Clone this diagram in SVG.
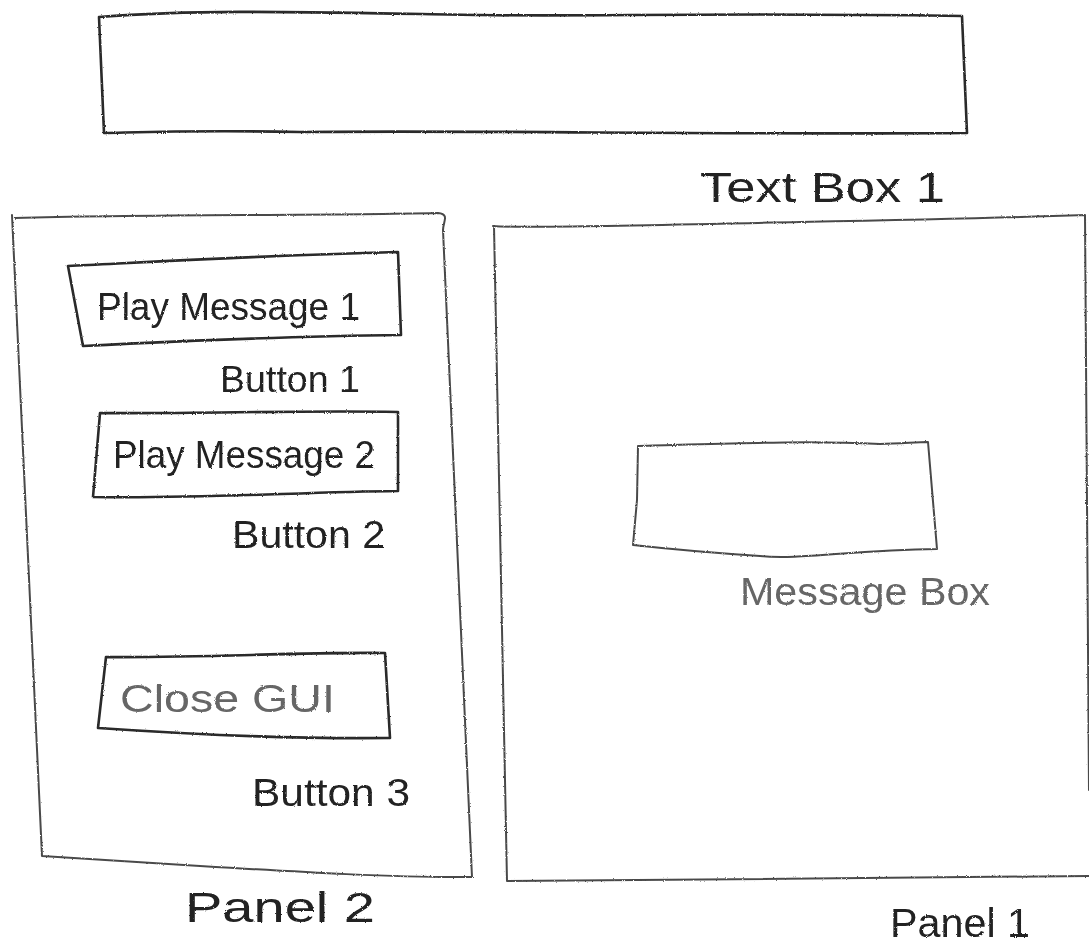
<svg xmlns="http://www.w3.org/2000/svg" width="1089" height="945" viewBox="0 0 1089 945">
<style>
.ln{fill:none;stroke:#2a2a2a;stroke-width:2.6;stroke-linejoin:round;stroke-linecap:round}
.lt{fill:none;stroke:#4a4a4a;stroke-width:2;stroke-linejoin:round;stroke-linecap:round}
.tx{font-family:"Liberation Sans","DejaVu Sans",sans-serif;fill:#222}
.gr{fill:#666}
</style>
<defs>
<filter id="rough" x="-5%" y="-5%" width="110%" height="110%">
<feTurbulence type="fractalNoise" baseFrequency="0.9" numOctaves="2" seed="3" result="n"/>
<feDisplacementMap in="SourceGraphic" in2="n" scale="2.2"/>
</filter>
</defs>
<rect width="1089" height="945" fill="#ffffff"/>
<g filter="url(#rough)">
<g id="textbox1">
<path class="ln" d="M99,17 C200,9 300,12 480,15 C600,17 700,12 962,16 L967,133 C700,135 500,130 300,132 C200,130 150,132 104,133 Z"/>
<text class="tx" x="700" y="202" font-size="42" textLength="245" lengthAdjust="spacingAndGlyphs">Text Box 1</text>
</g>
<g id="panel2">
<path class="lt" d="M15,218 C150,214 300,216 438,213 C450,214 443,222 443,230 L472,877 C400,878 300,872 200,866 C120,861 70,858 42,856 L12,215"/>
<text class="tx" x="185" y="922" font-size="42" textLength="190" lengthAdjust="spacingAndGlyphs">Panel 2</text>
</g>
<g id="panel1">
<path class="lt" d="M493,226 C520,229 700,224 800,222 C900,220 1000,218 1085,215 L1089,790 M1089,876 C900,877 700,880 507,881 L494,226"/>
<text class="tx" x="890" y="937" font-size="40" textLength="140" lengthAdjust="spacingAndGlyphs">Panel 1</text>
</g>
<g id="button1">
<path class="ln" d="M68,266 C150,262 250,256 398,252 L401,335 C300,336 200,340 83,346 Z"/>
<text class="tx" x="97" y="320" font-size="38" textLength="263" lengthAdjust="spacingAndGlyphs">Play Message 1</text>
<text class="tx" x="220" y="392" font-size="36" textLength="140" lengthAdjust="spacingAndGlyphs">Button 1</text>
</g>
<g id="button2">
<path class="ln" d="M100,413 C200,414 300,410 398,412 L398,491 C300,492 200,499 93,497 Z"/>
<text class="tx" x="113" y="468" font-size="38" textLength="262" lengthAdjust="spacingAndGlyphs">Play Message 2</text>
<text class="tx" x="232" y="548" font-size="38" textLength="153" lengthAdjust="spacingAndGlyphs">Button 2</text>
</g>
<g id="button3">
<path class="ln" d="M106,657 C200,658 300,652 385,653 L390,738 C300,739 200,735 98,728 Z"/>
<text class="tx gr" x="120" y="712" font-size="38" textLength="215" lengthAdjust="spacingAndGlyphs">Close GUI</text>
<text class="tx" x="252" y="806" font-size="38" textLength="158" lengthAdjust="spacingAndGlyphs">Button 3</text>
</g>
<g id="messagebox">
<path class="lt" d="M638,446 C720,444 800,440 880,444 C900,444 915,442 928,442 L937,549 C850,550 800,560 760,556 C700,552 660,548 633,545 L637,500 Z"/>
<text class="tx gr" x="740" y="605" font-size="38" textLength="250" lengthAdjust="spacingAndGlyphs">Message Box</text>
</g>
</g>
<g id="connectors"></g>
</svg>
